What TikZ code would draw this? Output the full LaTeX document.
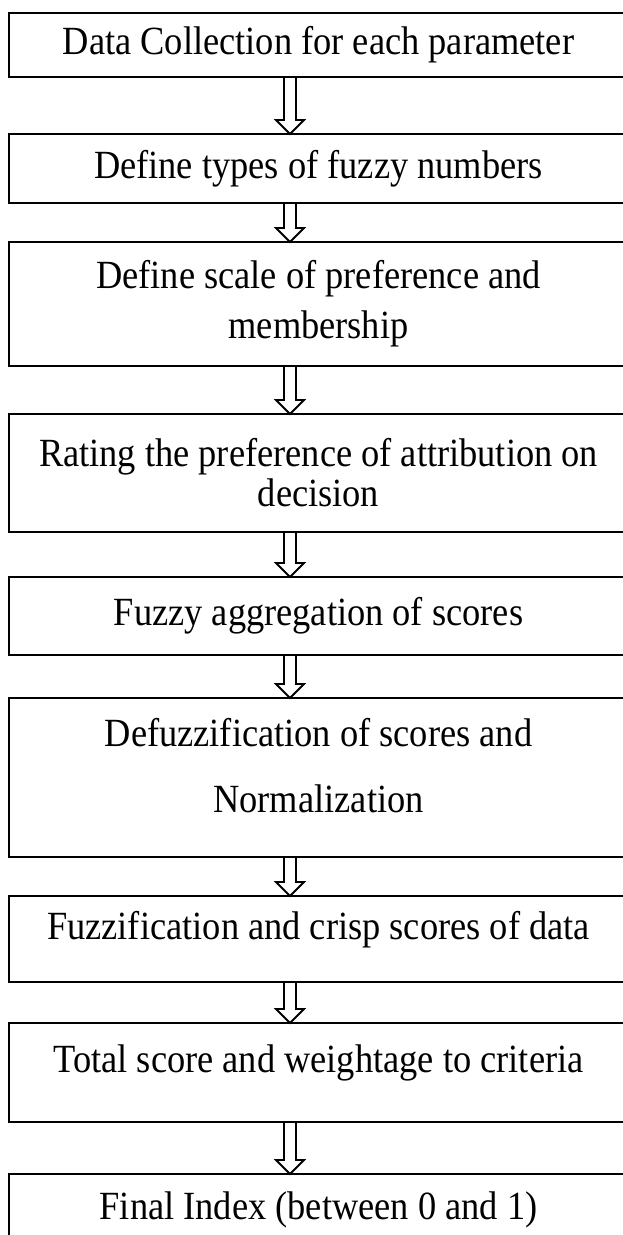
\documentclass[tikz,border=0pt]{standalone}
\usepackage{fontspec}
\setmainfont{Liberation Serif}[FakeStretch=0.91]
\usetikzlibrary{positioning,calc}

\begin{document}
\begin{tikzpicture}[x=1pt,y=1pt,
  stepbox/.style={draw,line width=1.6pt,outer sep=0pt,minimum width=619pt,align=center,inner sep=4pt,font=\fontsize{40pt}{40pt}\selectfont},
  toptext/.style={text height=24pt,text depth=24pt},
  hollowarrow/.style={draw,line width=1.8pt,line join=miter,to path={let \p1=(\tikztostart),\p2=(\tikztotarget) in
    (\x1-6pt,\y1) -- (\x1-6pt,\y2+14pt) -- (\x1-14pt,\y2+14pt) -- (\x1,\y2) -- (\x1+14pt,\y2+14pt) -- (\x1+6pt,\y2+14pt) -- (\x1+6pt,\y1) -- cycle}}]
\useasboundingbox (0,0) rectangle (622,-1235);
\coordinate (spine) at (290,0);
\node[stepbox,minimum height=64pt,anchor=north west] (collect) at (9,-13) {Data Collection for each parameter};
\node[stepbox,minimum height=69pt,below=57pt of collect] (types) {Define types of fuzzy numbers};
\node[stepbox,minimum height=124pt,below=39pt of types] (scale) {Define scale of preference and\\[10pt] membership};
\node[stepbox,minimum height=118pt,below=48pt of scale] (rating) {Rating the preference of attribution on\\ decision};
\node[stepbox,minimum height=78pt,below=45pt of rating] (aggr) {Fuzzy aggregation of scores};
\node[stepbox,text depth=24pt,minimum height=159pt,below=43pt of aggr] (defuzz) {Defuzzification of scores and\\[26pt] Normalization};
\node[stepbox,toptext,minimum height=86pt,below=39pt of defuzz] (crisp) {Fuzzification and crisp scores of data};
\node[stepbox,toptext,minimum height=99pt,below=41pt of crisp] (total) {Total score and weightage to criteria};
\node[stepbox,toptext,minimum height=90pt,below=52pt of total] (final) {Final Index (between 0 and 1)};
% block arrows between the steps
\draw[hollowarrow] (collect.south -| spine) to (types.north -| spine);
\draw[hollowarrow] (types.south -| spine) to (scale.north -| spine);
\draw[hollowarrow] (scale.south -| spine) to (rating.north -| spine);
\draw[hollowarrow] (rating.south -| spine) to (aggr.north -| spine);
\draw[hollowarrow] (aggr.south -| spine) to (defuzz.north -| spine);
\draw[hollowarrow] (defuzz.south -| spine) to (crisp.north -| spine);
\draw[hollowarrow] (crisp.south -| spine) to (total.north -| spine);
\draw[hollowarrow] (total.south -| spine) to (final.north -| spine);
\end{tikzpicture}
\end{document}
